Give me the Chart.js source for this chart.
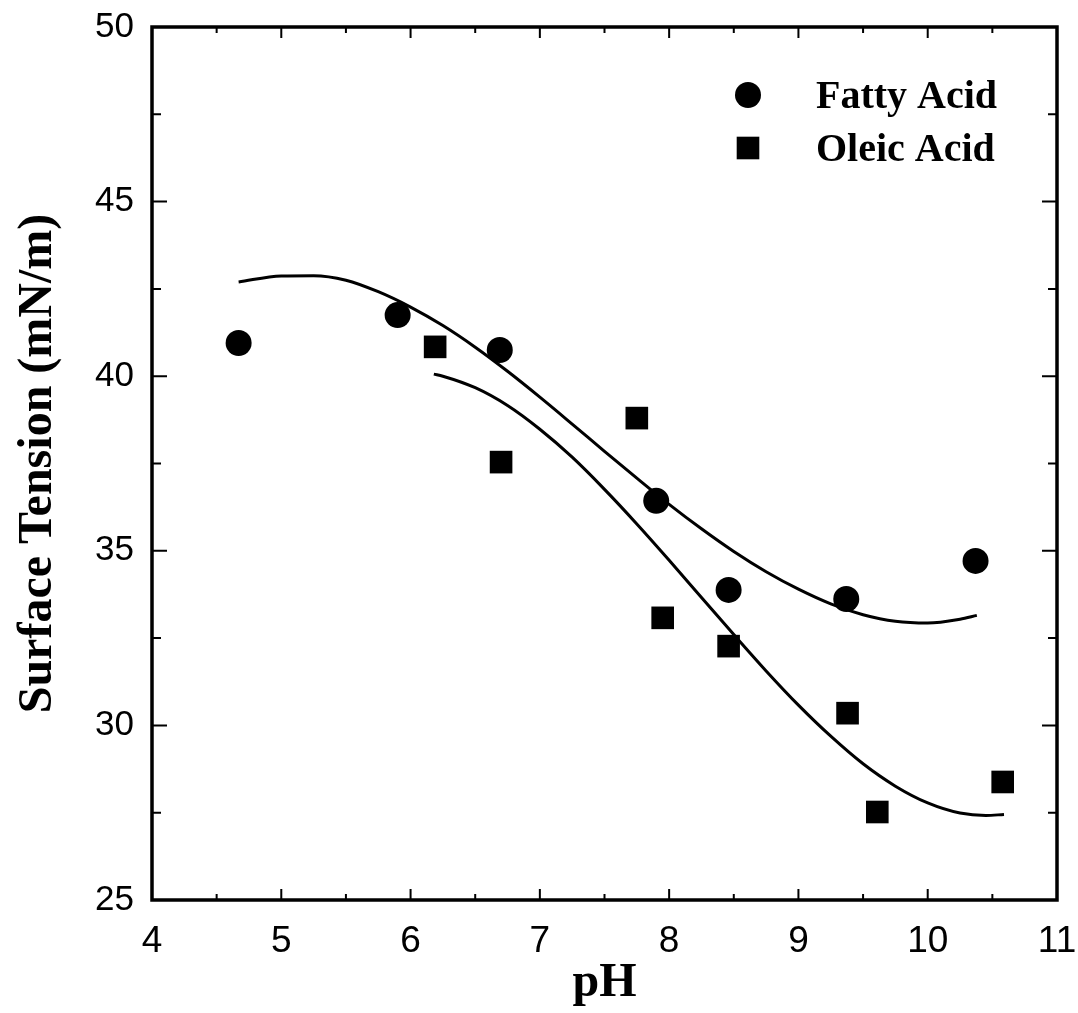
<!DOCTYPE html>
<html>
<head>
<meta charset="utf-8">
<title>Surface tension vs pH</title>
<script src="https://cdn.jsdelivr.net/npm/chart.js@4/dist/chart.umd.min.js"></script>
<style>
  html, body { margin: 0; padding: 0; background: #fff; }
  canvas { display: block; }
</style>
</head>
<body>
<canvas id="tension" width="1078" height="1013"></canvas>
<script>
/* Measured points */
var fattyPH = [4.67, 5.90, 6.69, 7.90, 8.46, 9.37, 10.37];
var fattyST = [40.95, 41.75, 40.75, 36.43, 33.88, 33.62, 34.71];

var oleicPH = [6.19, 6.70, 7.75, 7.95, 8.46, 9.38, 9.61, 10.58];
var oleicST = [40.84, 37.54, 38.80, 33.08, 32.27, 30.35, 27.52, 28.38];

/* Fitted curves */
var fattyFitPH = [4.67, 5.00, 5.25, 5.50, 5.75, 6.00, 6.25, 6.50, 6.75, 7.00, 7.25, 7.50, 7.75, 8.00, 8.25, 8.50, 8.75, 9.00, 9.25, 9.50, 9.75, 10.00, 10.25, 10.38];
var fattyFitST = [42.70, 42.87, 42.88, 42.75, 42.42, 41.98, 41.45, 40.83, 40.14, 39.40, 38.63, 37.85, 37.08, 36.33, 35.63, 34.98, 34.40, 33.90, 33.48, 33.17, 32.98, 32.93, 33.04, 33.15];

var oleicFitPH = [6.18, 6.25, 6.50, 6.75, 7.00, 7.25, 7.50, 7.75, 8.00, 8.25, 8.50, 8.75, 9.00, 9.25, 9.50, 9.75, 10.00, 10.25, 10.45, 10.59];
var oleicFitST = [40.06, 40.00, 39.67, 39.16, 38.48, 37.68, 36.76, 35.77, 34.73, 33.66, 32.60, 31.56, 30.58, 29.69, 28.90, 28.26, 27.78, 27.49, 27.42, 27.45];

/* Axis ranges */
var phMin = 4, phMax = 11, phStep = 1;
var stMin = 25, stMax = 50, stStep = 5;

var toPoints = function (xs, ys) {
    return xs.map(function (x, i) { return { x: x, y: ys[i] }; });
};

/* Box around the plot with ticks pointing inwards on all four sides */
var frameTicks = {
    id: 'frameTicks',
    afterDraw: function (chart) {
        var ctx = chart.ctx;
        var a = chart.chartArea;
        var xs = chart.scales.x;
        var ys = chart.scales.y;
        var v, p, len;

        ctx.save();
        ctx.strokeStyle = '#000';
        ctx.lineWidth = 3.5;
        ctx.strokeRect(a.left, a.top, a.right - a.left, a.bottom - a.top);

        ctx.lineWidth = 2;
        ctx.beginPath();
        for (v = phMin + phStep / 2; v < phMax; v += phStep / 2) {
            p = xs.getPixelForValue(v);
            len = Math.abs(v % phStep) < 1e-6 ? 11 : 6;
            ctx.moveTo(p, a.bottom);
            ctx.lineTo(p, a.bottom - len);
            ctx.moveTo(p, a.top);
            ctx.lineTo(p, a.top + len);
        }
        for (v = stMin + stStep / 2; v < stMax; v += stStep / 2) {
            p = ys.getPixelForValue(v);
            len = Math.abs(v % stStep) < 1e-6 ? 15 : 9;
            ctx.moveTo(a.left, p);
            ctx.lineTo(a.left + len, p);
            ctx.moveTo(a.right, p);
            ctx.lineTo(a.right - len, p);
        }
        ctx.stroke();
        ctx.restore();
    }
};

/* Legend inside the plot, only for the measured series */
var markerLegend = {
    id: 'markerLegend',
    afterDraw: function (chart) {
        var ctx = chart.ctx;
        var a = chart.chartArea;
        var items = chart.data.datasets.filter(function (d) { return !d.showLine; });

        ctx.save();
        ctx.fillStyle = '#000';
        ctx.font = 'bold 40px "Liberation Serif", "Times New Roman", serif';
        ctx.textBaseline = 'alphabetic';
        ctx.textAlign = 'left';
        items.forEach(function (d, i) {
            var mx = a.right - 309;
            var my = a.top + 68 + i * 53;
            Chart.helpers.drawPoint(ctx, {
                pointStyle: d.pointStyle,
                radius: d.pointRadius,
                rotation: 0,
                borderWidth: 0
            }, mx, my);
            ctx.fillText(d.label, mx + 68, my + 13);
        });
        ctx.restore();
    }
};

/* Keep the plot box where the axes end, without extra room for edge labels */
var dropEdgePadding = function (scale) {
    scale.paddingTop = 0;
    scale.paddingBottom = 0;
    scale.paddingLeft = 0;
    scale.paddingRight = 0;
};

var ctxTension = document.getElementById('tension');

var chartTension = new Chart(ctxTension, {
    type: 'scatter',
    data: {
        datasets: [
            {
                label: 'Fatty Acid',
                data: toPoints(fattyPH, fattyST),
                pointStyle: 'circle',
                pointRadius: 13,
                backgroundColor: '#000',
                borderColor: '#000',
                borderWidth: 0,
                showLine: false
            },
            {
                label: 'Oleic Acid',
                data: toPoints(oleicPH, oleicST),
                pointStyle: 'rect',
                pointRadius: 16,
                backgroundColor: '#000',
                borderColor: '#000',
                borderWidth: 0,
                showLine: false
            },
            {
                label: 'Fatty Acid fit',
                data: toPoints(fattyFitPH, fattyFitST),
                showLine: true,
                pointRadius: 0,
                borderColor: '#000',
                borderWidth: 3,
                cubicInterpolationMode: 'monotone',
                fill: false
            },
            {
                label: 'Oleic Acid fit',
                data: toPoints(oleicFitPH, oleicFitST),
                showLine: true,
                pointRadius: 0,
                borderColor: '#000',
                borderWidth: 3,
                cubicInterpolationMode: 'monotone',
                fill: false
            }
        ]
    },
    options: {
        responsive: false,
        maintainAspectRatio: false,
        animation: false,
        layout: {
            padding: { top: 27, right: 21, left: 0, bottom: 0 }
        },
        plugins: {
            legend: { display: false },
            tooltip: { enabled: false }
        },
        scales: {
            x: {
                type: 'linear',
                min: phMin,
                max: phMax,
                grid: { display: false, drawTicks: false },
                border: { display: false },
                ticks: {
                    stepSize: phStep,
                    color: '#000',
                    padding: 20,
                    font: { family: '"Liberation Sans", Arial, sans-serif', size: 37 }
                },
                title: {
                    display: true,
                    text: 'pH',
                    color: '#000',
                    padding: { top: 0, bottom: 1 },
                    font: { family: '"Liberation Serif", "Times New Roman", serif', size: 48, weight: 'bold' }
                },
                afterFit: function (scale) {
                    scale.height = 113;
                    dropEdgePadding(scale);
                }
            },
            y: {
                type: 'linear',
                min: stMin,
                max: stMax,
                grid: { display: false, drawTicks: false },
                border: { display: false },
                ticks: {
                    stepSize: stStep,
                    color: '#000',
                    padding: 18,
                    font: { family: '"Liberation Sans", Arial, sans-serif', size: 35 }
                },
                title: {
                    display: true,
                    text: 'Surface Tension (mN/m)',
                    color: '#000',
                    padding: { top: 10, bottom: 0 },
                    font: { family: '"Liberation Serif", "Times New Roman", serif', size: 48, weight: 'bold' }
                },
                afterFit: function (scale) {
                    scale.width = 152;
                    dropEdgePadding(scale);
                }
            }
        }
    },
    plugins: [frameTicks, markerLegend]
});
</script>
</body>
</html>
